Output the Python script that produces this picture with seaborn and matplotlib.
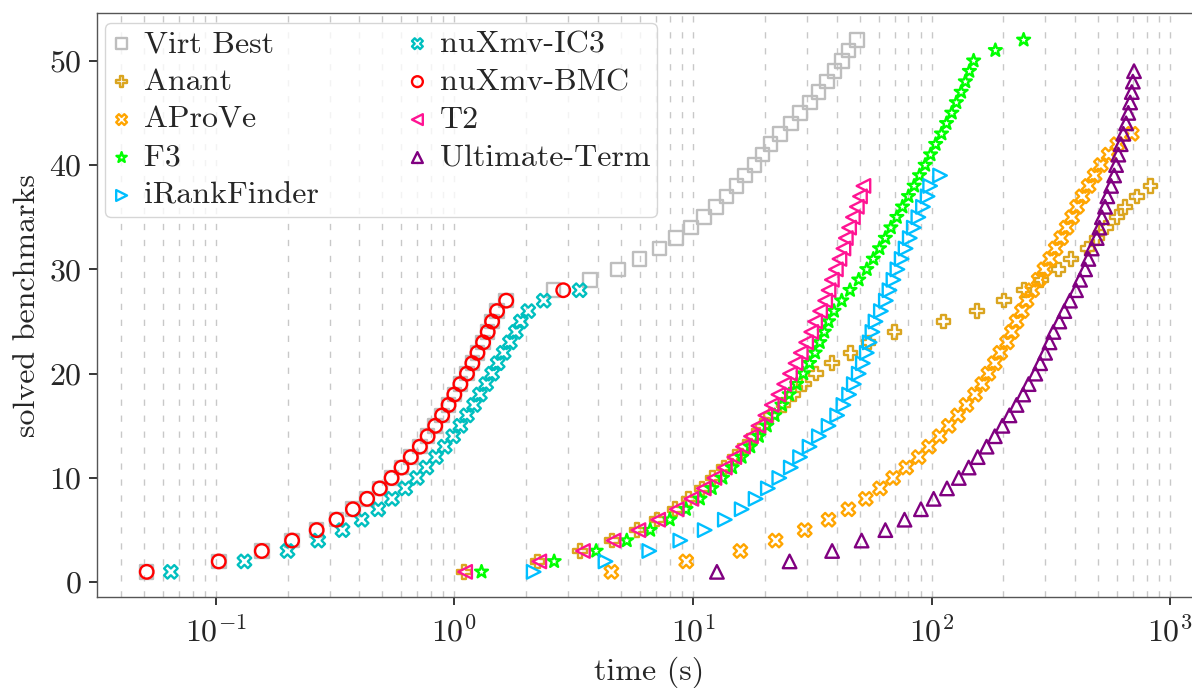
import numpy as np
import matplotlib
matplotlib.use("Agg")
import matplotlib.pyplot as plt
import seaborn as sns
from matplotlib.ticker import LogLocator, NullFormatter

sns.set_style("ticks")
plt.rcParams.update({
    "font.family": "cmr10",
    "mathtext.fontset": "cm",
    "axes.formatter.use_mathtext": True,
    "font.size": 23,
    "axes.unicode_minus": False,
})

# -----------------------------
# Data: solve times (s), sorted per tool (cactus plot)
# -----------------------------
virt_best = [0.0514, 0.103, 0.156, 0.209, 0.265, 0.321, 0.376, 0.431, 0.487, 0.546,
             0.601, 0.657, 0.717, 0.773, 0.832, 0.889, 0.946, 1.00, 1.06, 1.13,
             1.19, 1.25, 1.32, 1.38, 1.44, 1.51, 1.65, 2.60, 3.71, 4.85,
             5.97, 7.24, 8.50, 9.83, 11.1, 12.5, 13.8, 15.2, 16.5, 18.1,
             19.6, 21.1, 23.2, 25.8, 28.1, 31.0, 33.6, 36.4, 39.2, 42.1,
             44.9, 48.6]
anant = [1.10, 2.23, 3.37, 4.57, 5.82, 7.06, 8.40, 9.60, 10.9, 12.1,
         13.5, 15.0, 16.5, 18.0, 19.6, 21.2, 24.0, 26.4, 29.2, 32.8,
         38.2, 45.7, 54.3, 69.8, 112, 155, 201, 244, 288, 340,
         383, 450, 492, 538, 597, 647, 724, 828]
aprove = [4.55, 9.37, 15.8, 22.2, 29.4, 37.0, 44.8, 53.0, 60.8, 69.0,
          78.3, 88.3, 97.5, 108, 118, 129, 140, 152, 163, 173,
          184, 194, 207, 217, 227, 239, 250, 264, 281, 297,
          314, 331, 349, 368, 388, 407, 429, 455, 482, 512,
          552, 600, 690]
f3 = [1.30, 2.62, 3.93, 5.28, 6.62, 8.00, 9.35, 10.7, 12.0, 13.3,
      14.6, 16.0, 17.4, 18.9, 20.4, 22.0, 23.6, 25.3, 27.2, 29.0,
      30.8, 32.5, 34.0, 35.5, 37.0, 39.0, 42.0, 45.5, 49.5, 53.5,
      57.0, 60.5, 64.0, 67.5, 71.5, 75.5, 80.0, 84.5, 89.0, 94.0,
      99.0, 104, 110, 115.5, 121.5, 127, 133, 138.5, 144, 150,
      185, 243]
irankfinder = [2.15, 4.30, 6.56, 8.85, 11.2, 13.6, 16.0, 18.3, 20.6, 23.0,
               25.7, 28.1, 30.8, 33.7, 37.0, 40.2, 42.7, 45.1, 47.2, 49.5,
               51.5, 53.5, 55.0, 56.5, 58.2, 61.3, 64.3, 66.6, 69.2, 71.9,
               74.9, 77.8, 81.0, 84.2, 88.0, 92.0, 96.2, 98.6, 108.5]
nuxmv_ic3 = [0.0649, 0.132, 0.200, 0.269, 0.340, 0.409, 0.480, 0.548, 0.623, 0.697,
             0.764, 0.838, 0.912, 0.989, 1.06, 1.13, 1.21, 1.28, 1.36, 1.44,
             1.52, 1.61, 1.71, 1.81, 1.90, 2.04, 2.37, 3.35]
nuxmv_bmc = [0.0514, 0.103, 0.156, 0.209, 0.265, 0.321, 0.376, 0.431, 0.487, 0.546,
             0.601, 0.657, 0.717, 0.773, 0.832, 0.889, 0.946, 1.00, 1.06, 1.13,
             1.19, 1.25, 1.32, 1.38, 1.44, 1.51, 1.65, 2.86]
t2 = [1.11, 2.27, 3.46, 4.65, 5.91, 7.15, 8.55, 9.85, 11.1, 12.3,
      13.6, 14.9, 16.2, 17.5, 18.8, 20.1, 21.4, 22.8, 24.1, 25.5,
      26.9, 28.3, 29.8, 31.3, 32.5, 34.1, 35.8, 37.0, 38.2, 39.7,
      41.1, 42.7, 43.7, 45.1, 46.8, 48.6, 50.1, 51.8]
ultimate = [12.6, 25.4, 38.3, 50.9, 64.0, 77.0, 90.2, 102, 116, 130,
            143, 156, 170, 184, 198, 212, 227, 242, 255, 272,
            285, 299, 312, 324, 343, 360, 380, 403, 419, 440,
            454, 469, 492, 505, 517, 533, 545, 565, 582, 593,
            606, 620, 636, 653, 667, 679, 690, 697, 705]

tools = ["Virt Best", "Anant", "AProVe", "F3", "iRankFinder",
         "nuXmv-IC3", "nuXmv-BMC", "T2", "Ultimate-Term"]
times = [virt_best, anant, aprove, f3, irankfinder,
         nuxmv_ic3, nuxmv_bmc, t2, ultimate]
colors = ["#bebebe", "#daa520", "#ffa500", "#00ff00", "#00bfff",
          "#00bfbf", "#ff0000", "#ff1493", "#800080"]
markers = ["s", "P", "X", "*", ">", "X", "o", "<", "^"]

# -----------------------------
# Layout
# -----------------------------
fig = plt.figure(figsize=(11.92, 6.88), dpi=100)
ax = fig.add_axes([0.08104, 0.13183, 0.92634, 0.84884])
ax.set_xscale("log")

for name, t, col, mk in zip(tools, times, colors, markers):
    solved = np.arange(1, len(t) + 1)
    sns.scatterplot(x=t, y=solved, marker=mk, s=95, color=col,
                    facecolor="none", edgecolor=col, linewidth=1.7,
                    label=name, legend=False, ax=ax, zorder=3)

ax.set_xlim(10 ** -1.499, 10 ** 3.128)
ax.set_ylim(-1.44, 54.55)
ax.set_yticks([0, 10, 20, 30, 40, 50])
ax.xaxis.set_major_locator(LogLocator(base=10, numticks=12))
ax.xaxis.set_minor_locator(LogLocator(base=10, subs=np.arange(2, 10), numticks=60))
ax.xaxis.set_minor_formatter(NullFormatter())

ax.grid(True, which="both", axis="x", color="#c8c8c8",
        linestyle=(0, (4.5, 7)), linewidth=1.0)
ax.tick_params(which="minor", length=0)
ax.tick_params(which="major", length=5.8, width=1.1, color="black",
               direction="out", labelsize=23, pad=5)
ax.tick_params(axis="x", which="major", pad=7)
for sp in ax.spines.values():
    sp.set_color("#555555")
    sp.set_linewidth(1.0)

ax.set_xlabel("time (s)", fontsize=23, labelpad=7)
ax.set_ylabel("solved benchmarks", fontsize=23, labelpad=6)

ax.legend(ncol=2, loc="upper left", bbox_to_anchor=(0.0076, 0.0, 0.5003, 0.9839),
          mode="expand", borderaxespad=0, handlelength=0.6, handletextpad=0.4,
          labelspacing=0.3, borderpad=0.22, markerscale=0.8, fontsize=23)

fig.savefig("out.png", dpi=100)
